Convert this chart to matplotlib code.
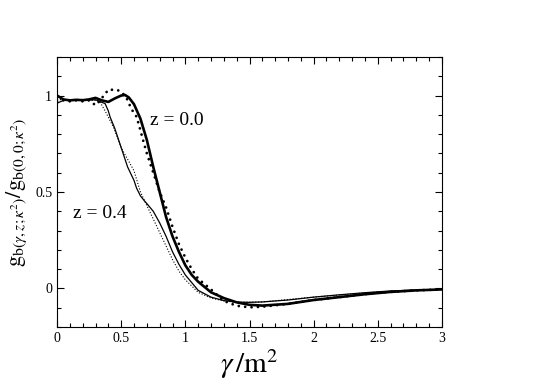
import matplotlib
matplotlib.use('Agg')
import matplotlib.pyplot as plt
from matplotlib.ticker import MultipleLocator

plt.rcParams['font.family'] = ['Liberation Serif', 'DejaVu Serif']
plt.rcParams['mathtext.fontset'] = 'stix'

# z = 0.0, thick solid
x_z0 = [0, 0.05, 0.1, 0.15, 0.2, 0.25, 0.3, 0.35, 0.4, 0.45, 0.5, 0.53, 0.56, 0.6,
        0.65, 0.7, 0.75, 0.8, 0.85, 0.9, 0.95, 1.0, 1.05, 1.1, 1.2, 1.3, 1.4, 1.5,
        1.6, 1.8, 2.0, 2.2, 2.4, 2.6, 2.8, 3.0]
y_z0 = [1.0, 0.98, 0.975, 0.978, 0.976, 0.98, 0.988, 0.975, 0.967, 0.985, 1.0, 1.003,
        0.99, 0.955, 0.88, 0.77, 0.63, 0.50, 0.37, 0.27, 0.19, 0.12, 0.07, 0.035,
        -0.02, -0.05, -0.072, -0.085, -0.089, -0.08, -0.06, -0.045, -0.03, -0.018,
        -0.01, -0.005]

# z = 0.0, thick dotted
x_z0d = [0, 0.05, 0.1, 0.15, 0.2, 0.25, 0.3, 0.33, 0.36, 0.4, 0.465, 0.5, 0.54, 0.58,
         0.62, 0.65, 0.67, 0.7, 0.75, 0.8, 0.85, 0.9, 0.95, 1.0, 1.05, 1.1, 1.2, 1.3,
         1.4, 1.5, 1.6, 1.8, 2.0, 2.2, 2.5, 2.8, 3.0]
y_z0d = [0.97, 0.975, 0.97, 0.975, 0.97, 0.975, 0.95, 0.97, 0.996, 1.03, 1.03, 1.02,
         0.99, 0.93, 0.89, 0.82, 0.77, 0.70, 0.60, 0.50, 0.42, 0.32, 0.23, 0.16, 0.10,
         0.05, -0.005, -0.065, -0.09, -0.098, -0.095, -0.08, -0.06, -0.045, -0.022,
         -0.01, -0.005]

# z = 0.4, thin solid
x_z4 = [0, 0.05, 0.1, 0.2, 0.3, 0.35, 0.375, 0.4, 0.413, 0.45, 0.465, 0.5, 0.53, 0.55,
        0.6, 0.62, 0.65, 0.68, 0.7, 0.75, 0.8, 0.85, 0.9, 0.95, 1.0, 1.05, 1.1, 1.2, 1.3,
        1.4, 1.5, 1.6, 1.8, 2.0, 2.2, 2.4, 2.6, 2.8, 3.0]
y_z4 = [0.96, 0.975, 0.978, 0.976, 0.978, 0.965, 0.958, 0.92, 0.89, 0.83, 0.80, 0.73,
        0.67, 0.63, 0.56, 0.52, 0.48, 0.455, 0.44, 0.40, 0.34, 0.27, 0.19, 0.125, 0.07,
        0.03, -0.01, -0.045, -0.063, -0.071, -0.072, -0.07, -0.06, -0.045, -0.033,
        -0.022, -0.013, -0.008, -0.005]

# z = 0.4, thin dotted
x_z4d = [0, 0.1, 0.2, 0.3, 0.335, 0.375, 0.44, 0.48, 0.5, 0.55, 0.6, 0.65, 0.7, 0.75,
         0.8, 0.85, 0.9, 0.95, 1.0, 1.1, 1.2, 1.3, 1.4, 1.6, 2.0, 2.5, 3.0]
y_z4d = [0.98, 0.975, 0.975, 0.975, 0.967, 0.92, 0.836, 0.766, 0.73, 0.67, 0.61, 0.50,
         0.43, 0.36, 0.29, 0.22, 0.15, 0.09, 0.045, -0.02, -0.05, -0.065, -0.072, -0.07,
         -0.045, -0.018, -0.005]

fig = plt.figure(figsize=(5.45, 3.85), dpi=100)
ax = fig.add_axes([0.1046, 0.1506, 0.7064, 0.7014])

ax.plot(x_z4d, y_z4d, color='black', lw=0.8, linestyle=(0, (1, 1.6)))
ax.plot(x_z4, y_z4, color='black', lw=0.9)
ax.plot(x_z0d, y_z0d, color='black', lw=2.0, linestyle=(0, (0.01, 2.3)),
        dash_capstyle='round')
ax.plot(x_z0, y_z0, color='black', lw=1.9)

ax.text(0.725, 0.87, 'z = 0.0', fontsize=14, va='center', ha='left')
ax.text(0.127, 0.39, 'z = 0.4', fontsize=14, va='center', ha='left')

ax.set_xlim(0, 3)
ax.set_ylim(-0.2, 1.2)
ax.xaxis.set_major_locator(MultipleLocator(0.5))
ax.xaxis.set_minor_locator(MultipleLocator(0.1))
ax.yaxis.set_major_locator(MultipleLocator(0.5))
ax.yaxis.set_minor_locator(MultipleLocator(0.1))
ax.tick_params(which='both', direction='in', top=True, right=True, labelsize=10,
               width=0.8)
ax.tick_params(which='major', length=5)
ax.tick_params(which='minor', length=3)
ax.set_yticks([0, 0.5, 1])
ax.set_yticklabels(['0', '0.5', '1'])
ax.set_xticks([0, 0.5, 1, 1.5, 2, 2.5, 3])
ax.set_xticklabels(['0', '0.5', '1', '1.5', '2', '2.5', '3'])

ax.set_xlabel(r'$\gamma\,/\mathrm{m}^2$', fontsize=21, labelpad=2)
ax.set_ylabel(r'$\mathrm{g}_{\mathrm{b}(\gamma,z;\kappa^2)}/\mathrm{g}_{\mathrm{b}(0,0;\kappa^2)}$',
              fontsize=16, labelpad=4)

fig.savefig('out.png', dpi=100)
